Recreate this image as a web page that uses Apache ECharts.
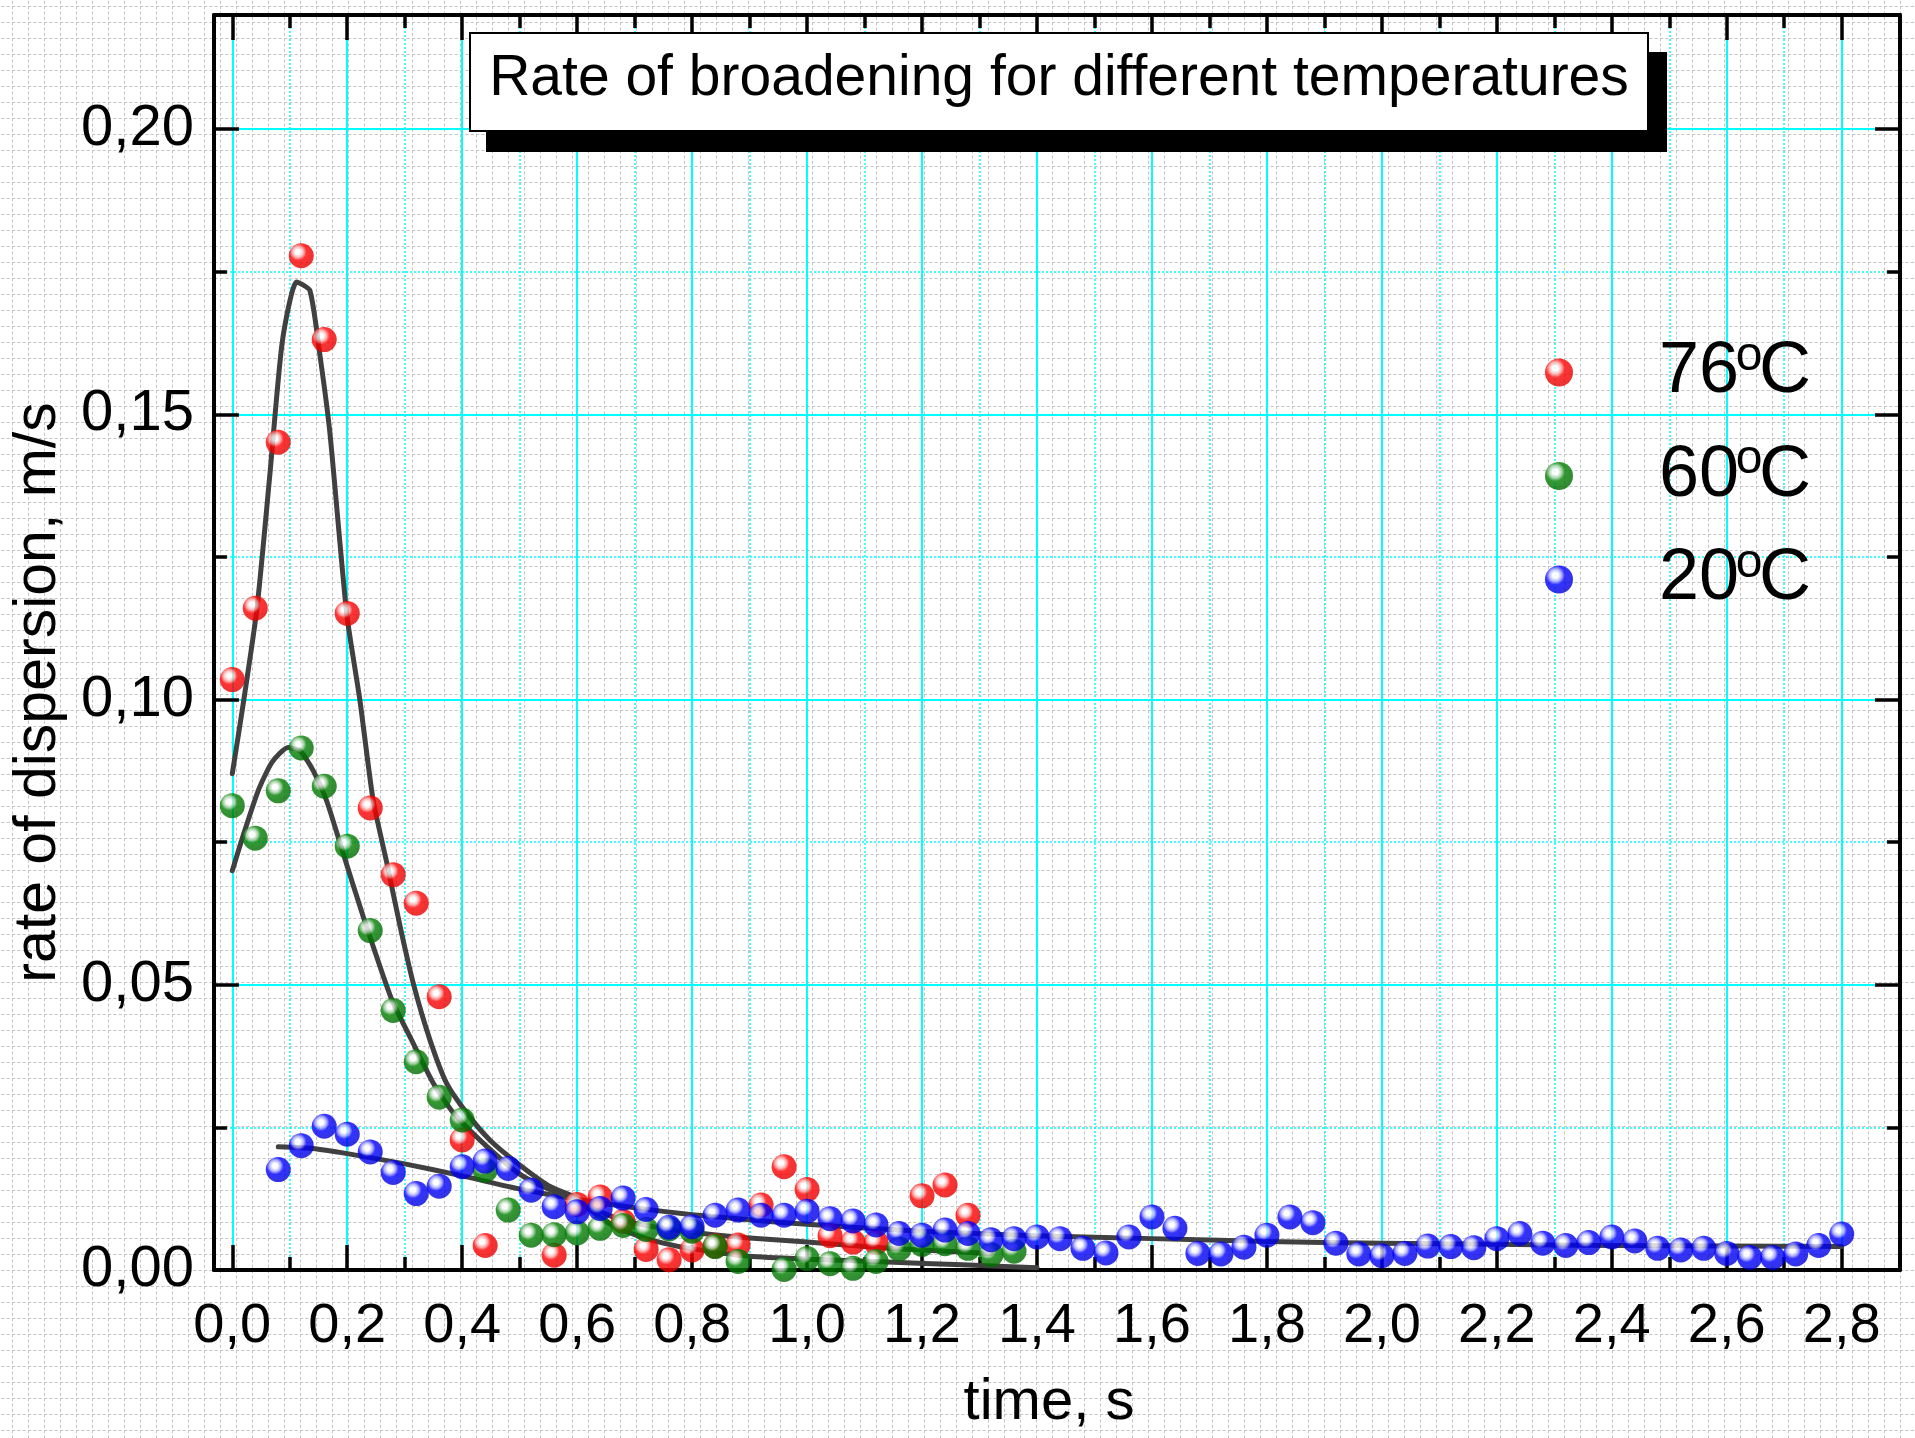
<!DOCTYPE html>
<html>
<head>
<meta charset="utf-8">
<script src="https://cdn.jsdelivr.net/npm/echarts@6/dist/echarts.min.js"></script>
<style>
html,body{margin:0;padding:0;}
body{width:1915px;height:1438px;background-color:#ffffff;}
#chart{width:1915px;height:1438px;}
</style>
</head>
<body>
<div id="chart"></div>
<script>
// ---------------- data ----------------
const seriesNames = ['76°C', '60°C', '20°C'];

const t76 = [0, 0.04, 0.08, 0.12, 0.16, 0.2, 0.24, 0.28, 0.32, 0.36, 0.4, 0.44, 0.56, 0.6, 0.64, 0.68, 0.72, 0.76, 0.8, 0.84, 0.88, 0.92, 0.96, 1.0, 1.04, 1.08, 1.12, 1.2, 1.24, 1.28];
const v76 = [0.1035, 0.116, 0.1451, 0.1778, 0.1631, 0.1151, 0.081, 0.0693, 0.0643, 0.0479, 0.0228, 0.0043, 0.0026, 0.0115, 0.0128, 0.0085, 0.0036, 0.0018, 0.0035, 0.0042, 0.0044, 0.0114, 0.0181, 0.0141, 0.006, 0.0049, 0.0048, 0.013, 0.0149, 0.0096];

const t60 = [0, 0.04, 0.08, 0.12, 0.16, 0.2, 0.24, 0.28, 0.32, 0.36, 0.4, 0.44, 0.48, 0.52, 0.56, 0.6, 0.64, 0.68, 0.72, 0.76, 0.8, 0.84, 0.88, 0.92, 0.96, 1.0, 1.04, 1.08, 1.12, 1.16, 1.2, 1.24, 1.28, 1.32, 1.36];
const v60 = [0.0814, 0.0757, 0.084, 0.0915, 0.0848, 0.0743, 0.0595, 0.0455, 0.0365, 0.0303, 0.0263, 0.0175, 0.0105, 0.0061, 0.0062, 0.0065, 0.0073, 0.0078, 0.0071, 0.0072, 0.0068, 0.0041, 0.0015, -0.0002, 0.0001, 0.002, 0.0011, 0.0003, 0.0015, 0.0037, 0.0045, 0.0046, 0.0038, 0.0027, 0.0033];

const t20 = [0.08, 0.12, 0.16, 0.2, 0.24, 0.28, 0.32, 0.36, 0.4, 0.44, 0.48, 0.52, 0.56, 0.6, 0.64, 0.68, 0.72, 0.76, 0.8, 0.84, 0.88, 0.92, 0.96, 1.0, 1.04, 1.08, 1.12, 1.16, 1.2, 1.24, 1.28, 1.32, 1.36, 1.4, 1.44, 1.48, 1.52, 1.56, 1.6, 1.64, 1.68, 1.72, 1.76, 1.8, 1.84, 1.88, 1.92, 1.96, 2.0, 2.04, 2.08, 2.12, 2.16, 2.2, 2.24, 2.28, 2.32, 2.36, 2.4, 2.44, 2.48, 2.52, 2.56, 2.6, 2.64, 2.68, 2.72, 2.76, 2.8];
const v20 = [0.0176, 0.0218, 0.0252, 0.0238, 0.0207, 0.0171, 0.0134, 0.0147, 0.0181, 0.0191, 0.0178, 0.014, 0.0111, 0.0102, 0.0108, 0.0126, 0.0106, 0.0075, 0.0076, 0.0096, 0.0105, 0.0096, 0.0096, 0.0103, 0.009, 0.0086, 0.0079, 0.0064, 0.0061, 0.007, 0.0064, 0.0053, 0.0055, 0.0058, 0.0055, 0.0038, 0.003, 0.0058, 0.0093, 0.0073, 0.0029, 0.0028, 0.004, 0.0061, 0.0093, 0.0083, 0.0047, 0.0028, 0.0025, 0.0029, 0.0042, 0.0041, 0.0039, 0.0055, 0.0064, 0.0047, 0.0043, 0.0048, 0.0058, 0.0051, 0.0038, 0.0035, 0.0038, 0.0029, 0.0022, 0.0022, 0.0028, 0.0043, 0.0063];

// fitted curves
const fit76T = [0, 0.02, 0.043, 0.065, 0.087, 0.112, 0.135, 0.153, 0.17, 0.199, 0.222, 0.245, 0.269, 0.292, 0.315, 0.344, 0.373, 0.408, 0.448, 0.495, 0.55, 0.6, 0.65, 0.7, 0.8, 0.9, 1.0, 1.1, 1.2, 1.32];
const fit76V = [0.087, 0.0999, 0.116, 0.139, 0.1627, 0.1732, 0.1717, 0.160, 0.1466, 0.1151, 0.0999, 0.0824, 0.0713, 0.0602, 0.0502, 0.0403, 0.0327, 0.0275, 0.0228, 0.0188, 0.0148, 0.0126, 0.0098, 0.0082, 0.0066, 0.0056, 0.0049, 0.0041, 0.0035, 0.0029];

const fit60T = [0, 0.02, 0.045, 0.069, 0.097, 0.118, 0.141, 0.164, 0.193, 0.228, 0.277, 0.315, 0.35, 0.385, 0.437, 0.5, 0.55, 0.6, 0.65, 0.7, 0.75, 0.8, 0.9, 1.0, 1.14, 1.27, 1.4];
const fit60V = [0.070, 0.0765, 0.084, 0.089, 0.0916, 0.091, 0.0875, 0.0823, 0.073, 0.0619, 0.0475, 0.0397, 0.0327, 0.0275, 0.0222, 0.0168, 0.0142, 0.0123, 0.0085, 0.0062, 0.0047, 0.0037, 0.0024, 0.0019, 0.0014, 0.0009, 0.0004];

const fit20T = [0.08, 0.14, 0.2, 0.3, 0.4, 0.5, 0.6, 0.7, 0.8, 0.9, 1.0, 1.2, 1.4, 1.6, 1.8, 2.0, 2.2, 2.4, 2.6, 2.8];
const fit20V = [0.0216, 0.0213, 0.0204, 0.0186, 0.0165, 0.0142, 0.0124, 0.0109, 0.0097, 0.0088, 0.008, 0.0068, 0.006, 0.0055, 0.005, 0.0047, 0.0045, 0.0043, 0.0042, 0.0041];

// tick values
const xMajor = [0, 0.2, 0.4, 0.6, 0.8, 1.0, 1.2, 1.4, 1.6, 1.8, 2.0, 2.2, 2.4, 2.6, 2.8];
const xMinor = [0.1, 0.3, 0.5, 0.7, 0.9, 1.1, 1.3, 1.5, 1.7, 1.9, 2.1, 2.3, 2.5, 2.7];
const yMajor = [0, 0.05, 0.1, 0.15, 0.2];
const yMinor = [0.025, 0.075, 0.125, 0.175];

// ---------------- page background (graph paper) ----------------
const tile = "<svg xmlns='http://www.w3.org/2000/svg' width='16' height='16'><path d='M0.5 0V16M0 0.5H16' stroke='#c4c4c4' stroke-width='1' stroke-dasharray='3.2 2.13' fill='none'/></svg>";
document.body.style.backgroundImage = 'url("data:image/svg+xml,' + encodeURIComponent(tile) + '")';
document.body.style.backgroundSize = '16px 16px';
document.body.style.backgroundPosition = '12px 6px';

// ---------------- helpers ----------------
const FONT = "'Liberation Sans', Arial, Helvetica, sans-serif";
const X_MIN = -0.0318, X_MAX = 2.9014, Y_MIN = 0, Y_MAX = 0.22;
const pairs = (t, v) => t.map((x, i) => [x, v[i]]);
const ball = (light, main, edge) => ({
  type: 'radial', x: 0.37, y: 0.35, r: 0.62,
  colorStops: [
    { offset: 0, color: '#ffffff' },
    { offset: 0.16, color: '#ffffff' },
    { offset: 0.36, color: light },
    { offset: 0.55, color: main },
    { offset: 1, color: edge }
  ]
});
const fmtX = v => v.toFixed(1).replace('.', ',');
const fmtY = v => v.toFixed(2).replace('.', ',');

const frameLine = { show: true, onZero: false, lineStyle: { color: '#000', width: 4 } };
const noLine = { show: false, onZero: false };
const tickStyle = { color: '#000', width: 3.5 };
const majorSplit = { show: true, lineStyle: { color: '#00ffff', width: 2 } };
const minorSplit = { show: true, lineStyle: { color: '#00ffff', width: 1.5, type: [2, 2] } };

const xBase = { type: 'value', min: X_MIN, max: X_MAX };
const yBase = { type: 'value', min: Y_MIN, max: Y_MAX };

const chart = echarts.init(document.getElementById('chart'), null, { renderer: 'canvas' });

const fitLine = (t, v) => ({
  type: 'line', data: pairs(t, v), xAxisIndex: 0, yAxisIndex: 0,
  symbol: 'none', showSymbol: false, silent: true, smooth: 0.2, z: 2,
  lineStyle: { color: '#404040', width: 5, cap: 'round', join: 'round' }
});

const option = {
  animation: false,
  backgroundColor: 'transparent',
  grid: { left: 214, right: 15, top: 15, bottom: 168, containLabel: false, outerBoundsMode: 'none' },
  xAxis: [
    Object.assign({}, xBase, {
      position: 'bottom', axisLine: frameLine,
      axisTick: { show: true, inside: true, length: 25, customValues: xMajor, lineStyle: tickStyle },
      axisLabel: { show: true, customValues: xMajor, formatter: fmtX, fontSize: 56, fontFamily: FONT, color: '#000', margin: 29 },
      splitLine: majorSplit,
      name: 'time, s', nameLocation: 'middle', nameGap: 104,
      nameTextStyle: { fontSize: 58, fontFamily: FONT, color: '#000', padding: [0, 16, 0, 0] }
    }),
    Object.assign({}, xBase, {
      position: 'bottom', axisLine: noLine,
      axisTick: { show: true, inside: true, length: 13, customValues: xMinor, lineStyle: tickStyle },
      axisLabel: { show: false }, splitLine: minorSplit
    }),
    Object.assign({}, xBase, {
      position: 'top', axisLine: frameLine,
      axisTick: { show: true, inside: true, length: 25, customValues: xMajor, lineStyle: tickStyle },
      axisLabel: { show: false }, splitLine: { show: false }
    }),
    Object.assign({}, xBase, {
      position: 'top', axisLine: noLine,
      axisTick: { show: true, inside: true, length: 13, customValues: xMinor, lineStyle: tickStyle },
      axisLabel: { show: false }, splitLine: { show: false }
    })
  ],
  yAxis: [
    Object.assign({}, yBase, {
      position: 'left', axisLine: frameLine,
      axisTick: { show: true, inside: true, length: 25, customValues: yMajor, lineStyle: tickStyle },
      axisLabel: { show: true, customValues: yMajor, formatter: fmtY, fontSize: 58, fontFamily: FONT, color: '#000', margin: 20 },
      splitLine: majorSplit,
      name: 'rate of dispersion, m/s', nameLocation: 'middle', nameGap: 146,
      nameTextStyle: { fontSize: 59, fontFamily: FONT, color: '#000', padding: [0, 100, 0, 0] }
    }),
    Object.assign({}, yBase, {
      position: 'left', axisLine: noLine,
      axisTick: { show: true, inside: true, length: 13, customValues: yMinor, lineStyle: tickStyle },
      axisLabel: { show: false }, splitLine: minorSplit
    }),
    Object.assign({}, yBase, {
      position: 'right', axisLine: frameLine,
      axisTick: { show: true, inside: true, length: 25, customValues: yMajor, lineStyle: tickStyle },
      axisLabel: { show: false }, splitLine: { show: false }
    }),
    Object.assign({}, yBase, {
      position: 'right', axisLine: noLine,
      axisTick: { show: true, inside: true, length: 13, customValues: yMinor, lineStyle: tickStyle },
      axisLabel: { show: false }, splitLine: { show: false }
    })
  ],
  legend: {
    data: seriesNames,
    orient: 'vertical', left: 1545, top: 332.5, padding: 0,
    itemWidth: 28, itemHeight: 28, itemGap: 27.5, icon: 'circle',
    formatter: n => '{n|' + n.replace('°C', '') + '}{s|o}{n|C}',
    textStyle: {
      padding: [0, 0, 0, 81],
      rich: {
        n: { fontSize: 72, lineHeight: 80, fontFamily: FONT, color: '#000' },
        s: { fontSize: 48, lineHeight: 16, verticalAlign: 'top', width: 20, align: 'center', fontFamily: FONT, color: '#000' }
      }
    }
  },
  graphic: [
    { type: 'rect', z: 100, silent: true, shape: { x: 486, y: 52, width: 1181, height: 100 }, style: { fill: '#000' } },
    { type: 'rect', z: 101, silent: true, shape: { x: 470, y: 33, width: 1178, height: 98 }, style: { fill: '#fff', stroke: '#000', lineWidth: 2 } },
    { type: 'text', z: 102, silent: true, style: { text: 'Rate of broadening for different temperatures', x: 1059, y: 79, align: 'center', verticalAlign: 'middle', fontSize: 57, fontFamily: FONT, fill: '#000' } }
  ],
  series: [
    fitLine(fit76T, fit76V),
    fitLine(fit60T, fit60V),
    fitLine(fit20T, fit20V),
    { type: 'scatter', name: seriesNames[0], data: pairs(t76, v76), xAxisIndex: 0, yAxisIndex: 0, symbol: 'circle', symbolSize: 25, z: 3,
      itemStyle: { color: ball('#ff9c9c', '#ff0000', '#e80000') } },
    { type: 'scatter', name: seriesNames[1], data: pairs(t60, v60), xAxisIndex: 0, yAxisIndex: 0, symbol: 'circle', symbolSize: 25, z: 3,
      itemStyle: { color: ball('#9ccc9c', '#008000', '#006e00') } },
    { type: 'scatter', name: seriesNames[2], data: pairs(t20, v20), xAxisIndex: 0, yAxisIndex: 0, symbol: 'circle', symbolSize: 25, z: 3,
      itemStyle: { color: ball('#a0a0ff', '#0000ff', '#0000e0') } }
  ]
};
chart.setOption(option);
</script>
</body>
</html>
